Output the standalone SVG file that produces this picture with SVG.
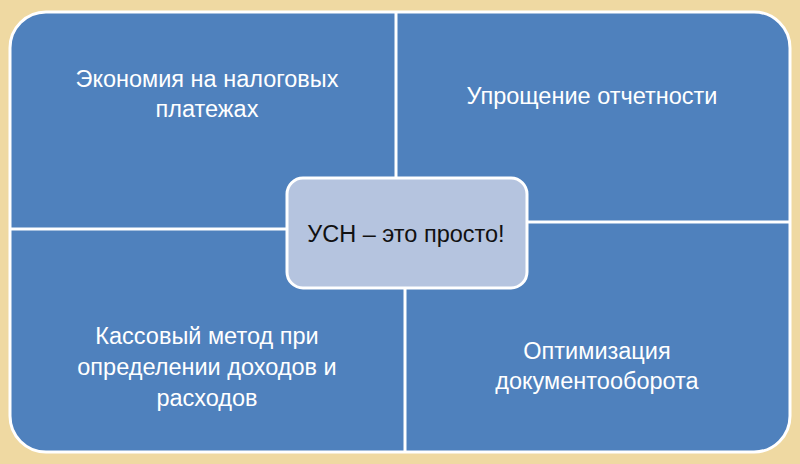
<svg xmlns="http://www.w3.org/2000/svg" width="800" height="464" viewBox="0 0 800 464">
<style>
.q{font-family:"Liberation Sans","Open Sans",sans-serif;font-size:23.5px;fill:#fff;text-anchor:middle}
.c{font-family:"Liberation Sans","Open Sans",sans-serif;font-size:23.5px;fill:#111;text-anchor:middle}
.d{stroke:#fff;stroke-width:3}
</style>
<rect width="800" height="464" fill="#efd9a2"/>
<g id="quadrants">
<rect x="10" y="12" width="780" height="440" rx="36" fill="#4f81bd" stroke="#fff" stroke-width="3"/>
</g>
<g id="connectors">
<line class="d" x1="396" y1="12" x2="396" y2="180"/>
<line class="d" x1="10" y1="229" x2="288" y2="229"/>
<line class="d" x1="526" y1="222" x2="790" y2="222"/>
<line class="d" x1="405" y1="287" x2="405" y2="452"/>
</g>
<g id="tl"><text class="q" x="207" y="87">Экономия на налоговых</text><text class="q" x="207" y="117">платежах</text></g>
<g id="tr"><text class="q" x="592" y="104">Упрощение отчетности</text></g>
<g id="bl"><text class="q" x="207" y="344">Кассовый метод при</text><text class="q" x="207" y="375">определении доходов и</text><text class="q" x="207" y="406">расходов</text></g>
<g id="br"><text class="q" x="597" y="359">Оптимизация</text><text class="q" x="597" y="389">документооборота</text></g>
<g id="center"><rect x="287" y="178" width="240" height="110" rx="16" fill="#b5c4df" stroke="#fff" stroke-width="3"/><text class="c" x="406" y="242">УСН – это просто!</text></g>
</svg>
